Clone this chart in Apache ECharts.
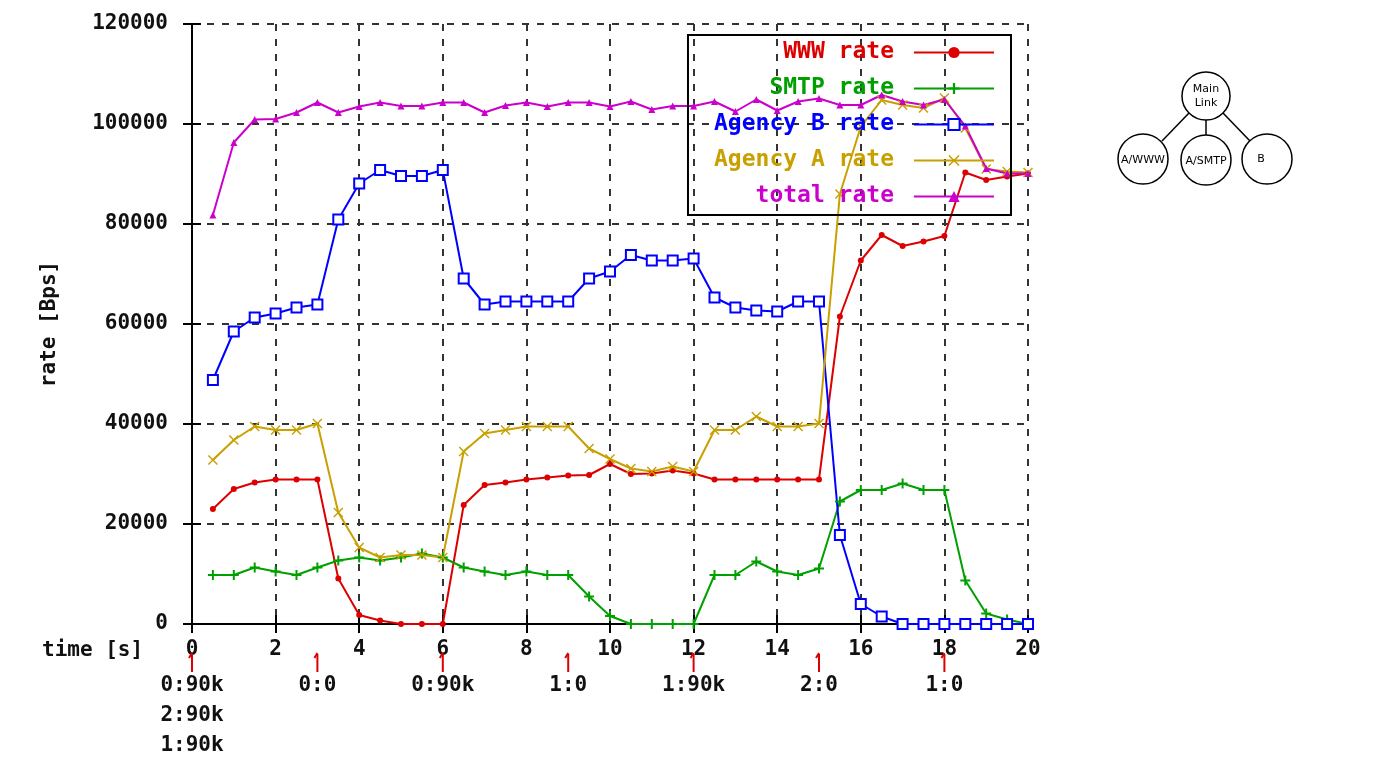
<!DOCTYPE html>
<html>
<head>
<meta charset="utf-8">
<script src="https://cdn.jsdelivr.net/npm/echarts@6/dist/echarts.min.js"></script>
<style>
  html, body { margin: 0; padding: 0; background: #fff; }
  #chart { width: 1382px; height: 776px; }
</style>
</head>
<body>
<div id="chart"></div>
<script>
// sample times [s]
var times = [0.5, 1, 1.5, 2, 2.5, 3, 3.5, 4, 4.5, 5, 5.5, 6, 6.5, 7, 7.5, 8, 8.5, 9, 9.5, 10,
  10.5, 11, 11.5, 12, 12.5, 13, 13.5, 14, 14.5, 15, 15.5, 16, 16.5, 17, 17.5, 18, 18.5, 19, 19.5, 20];

// rates [Bps]
var wwwRate = [23000, 27000, 28300, 28900, 28900, 28900, 9100, 1800, 700, 0, 0, 0, 23800, 27800, 28300, 28900, 29300, 29700, 29800, 32000,
  30000, 30100, 30700, 30100, 28900, 28900, 28900, 28900, 28900, 28900, 61500, 72700, 77800, 75600, 76500, 77600, 90300, 88800, 89500, 90100];
var smtpRate = [9800, 9800, 11300, 10500, 9800, 11300, 12700, 13300, 12700, 13300, 14100, 13300, 11300, 10500, 9800, 10500, 9800, 9800, 5500, 1600,
  0, 0, 0, 0, 9800, 9800, 12500, 10500, 9800, 11100, 24500, 26800, 26800, 28100, 26800, 26800, 8700, 2100, 900, 0];
var agencyBRate = [48800, 58500, 61300, 62100, 63300, 63900, 80900, 88100, 90800, 89600, 89600, 90800, 69100, 63900, 64500, 64500, 64500, 64500, 69100, 70500,
  73800, 72700, 72700, 73100, 65300, 63300, 62700, 62500, 64500, 64500, 17800, 4000, 1500, 0, 0, 0, 0, 0, 0, 0];
var agencyARate = [32800, 36800, 39500, 38800, 38800, 40100, 22300, 15300, 13300, 13800, 13800, 13300, 34500, 38100, 38800, 39500, 39500, 39500, 35100, 33000,
  31100, 30500, 31500, 30500, 38800, 38800, 41500, 39500, 39500, 40100, 86000, 99500, 104800, 103800, 103200, 105200, 99200, 91000, 90500, 90300];
var totalRate = [81800, 96300, 100900, 101000, 102300, 104300, 102300, 103500, 104300, 103600, 103600, 104300, 104300, 102300, 103700, 104300, 103500, 104300, 104300, 103500,
  104500, 102900, 103600, 103600, 104500, 102500, 104900, 102700, 104500, 105100, 103800, 103800, 105800, 104500, 103800, 104900, 99600, 91100, 90100, 90100];

// configuration change events under the time axis
var eventTimes = [0, 3, 6, 9, 12, 15, 18];
var eventLabels = ['0:90k\n2:90k\n1:90k', '0:0', '0:90k', '1:0', '1:90k', '2:0', '1:0'];

var MONO = '"DejaVu Sans Mono", "Liberation Mono", monospace';

function pairs(vals) {
  return times.map(function (t, i) { return [t, vals[i]]; });
}

function lineSeries(name, vals, color, symbol, size, extra) {
  var s = {
    name: name,
    type: 'line',
    data: pairs(vals),
    symbol: symbol,
    symbolSize: size,
    showAllSymbol: true,
    lineStyle: { color: color, width: 2 },
    itemStyle: { color: color },
    animation: false
  };
  if (extra) Object.assign(s, extra);
  return s;
}

var chart = echarts.init(document.getElementById('chart'), null, { renderer: 'canvas' });

var plusPath = 'path://M4,0H6V4H10V6H6V10H4V6H0V4H4Z';
var crossPath = 'path://M1,0L5,4L9,0L10,1L6,5L10,9L9,10L5,6L1,10L0,9L4,5L0,1Z';

var gridDash = { color: '#333', width: 2, type: [7, 8] };
var plainNum = function (v) { return String(v); };

chart.setOption({
  animation: false,
  textStyle: { fontFamily: MONO },
  grid: { left: 192, top: 24, width: 836, height: 600 },
  xAxis: [{
    type: 'value', min: 0, max: 20, interval: 2,
    axisLine: { lineStyle: { color: '#000', width: 2 } },
    axisTick: { inside: true, length: 9, lineStyle: { color: '#000', width: 2 } },
    axisLabel: { color: '#111', fontFamily: MONO, fontSize: 21, fontWeight: 'bold', margin: 15, formatter: plainNum },
    splitLine: { show: true, lineStyle: gridDash }
  }, {
    type: 'value', min: 0, max: 20, interval: 2, position: 'top',
    axisLine: { lineStyle: { color: '#000', width: 2 } },
    axisTick: { inside: true, length: 9, lineStyle: { color: '#000', width: 2 } },
    axisLabel: { show: false },
    splitLine: { show: false }
  }],
  yAxis: [{
    type: 'value', min: 0, max: 120000, interval: 20000,
    name: 'rate [Bps]', nameLocation: 'middle', nameGap: 132, nameRotate: 90,
    nameTextStyle: { color: '#111', fontFamily: MONO, fontSize: 21, fontWeight: 'bold' },
    axisLine: { show: true, lineStyle: { color: '#000', width: 2 } },
    axisTick: { show: true, inside: true, length: 9, lineStyle: { color: '#000', width: 2 } },
    axisLabel: { color: '#111', fontFamily: MONO, fontSize: 21, fontWeight: 'bold', margin: 24, formatter: plainNum },
    splitLine: { show: true, lineStyle: gridDash }
  }, {
    type: 'value', min: 0, max: 120000, interval: 20000, position: 'right',
    axisLine: { show: true, lineStyle: { color: '#000', width: 2 } },
    axisTick: { show: true, inside: true, length: 9, lineStyle: { color: '#000', width: 2 } },
    axisLabel: { show: false },
    splitLine: { show: false }
  }],
  legend: {
    orient: 'vertical',
    align: 'right',
    right: 371,
    top: 35,
    padding: [6, 16, 7, 26],
    borderColor: '#000',
    borderWidth: 2,
    backgroundColor: 'transparent',
    itemWidth: 80,
    itemHeight: 14,
    itemGap: 13,
    textStyle: { fontFamily: MONO, fontSize: 23, fontWeight: 'bold', lineHeight: 22, padding: [0, 15, 0, 0] },
    data: [
      { name: 'WWW rate', textStyle: { color: '#dd0000' } },
      { name: 'SMTP rate', textStyle: { color: '#00a000' } },
      { name: 'Agency B rate', textStyle: { color: '#0000ff' } },
      { name: 'Agency A rate', textStyle: { color: '#c8a000' } },
      { name: 'total rate', textStyle: { color: '#cc00cc' } }
    ]
  },
  series: [
    lineSeries('WWW rate', wwwRate, '#dd0000', 'circle', 6),
    lineSeries('SMTP rate', smtpRate, '#00a000', plusPath, 10),
    lineSeries('Agency B rate', agencyBRate, '#0000ff', 'rect', 10, {
      itemStyle: { color: '#fff', borderColor: '#0000ff', borderWidth: 2 }
    }),
    lineSeries('Agency A rate', agencyARate, '#c8a000', crossPath, 10),
    lineSeries('total rate', totalRate, '#cc00cc', 'triangle', 7),
    {
      name: 'events',
      type: 'custom',
      clip: false,
      silent: true,
      data: eventTimes.map(function (t) { return [t, 0]; }),
      renderItem: function (params, api) {
        var p = api.coord([api.value(0), api.value(1)]);
        return {
          type: 'group',
          children: [
            { type: 'line', shape: { x1: p[0], y1: p[1] + 30, x2: p[0], y2: p[1] + 48 },
              style: { stroke: '#dd0000', lineWidth: 2 } },
            { type: 'line', shape: { x1: p[0] - 3, y1: p[1] + 34, x2: p[0], y2: p[1] + 29 },
              style: { stroke: '#dd0000', lineWidth: 2 } },
            { type: 'text', style: {
                text: eventLabels[params.dataIndex], x: p[0], y: p[1] + 47,
                align: 'center', verticalAlign: 'top', lineHeight: 30,
                font: 'bold 21px ' + MONO, fill: '#111' } }
          ]
        };
      }
    }
  ],
  graphic: [
    { type: 'text', left: 42, top: 640,
      style: { text: 'time [s]', font: 'bold 21px ' + MONO, fill: '#111' } },
    // link tree on the right
    { type: 'line', shape: { x1: 1189, y1: 113, x2: 1162, y2: 141 }, style: { stroke: '#000', lineWidth: 1.5 } },
    { type: 'line', shape: { x1: 1206, y1: 120, x2: 1206, y2: 135 }, style: { stroke: '#000', lineWidth: 1.5 } },
    { type: 'line', shape: { x1: 1223, y1: 113, x2: 1250, y2: 141 }, style: { stroke: '#000', lineWidth: 1.5 } },
    { type: 'circle', shape: { cx: 1206, cy: 96, r: 24 }, style: { fill: '#fff', stroke: '#000', lineWidth: 1.5 } },
    { type: 'circle', shape: { cx: 1143, cy: 159, r: 25 }, style: { fill: '#fff', stroke: '#000', lineWidth: 1.5 } },
    { type: 'circle', shape: { cx: 1206, cy: 160, r: 25 }, style: { fill: '#fff', stroke: '#000', lineWidth: 1.5 } },
    { type: 'circle', shape: { cx: 1267, cy: 159, r: 25 }, style: { fill: '#fff', stroke: '#000', lineWidth: 1.5 } },
    { type: 'text', x: 1206, y: 96, style: { text: 'Main\nLink', align: 'center', verticalAlign: 'middle', lineHeight: 14, font: '11px "DejaVu Sans"', fill: '#000' } },
    { type: 'text', x: 1143, y: 160, style: { text: 'A/WWW', align: 'center', verticalAlign: 'middle', font: '11px "DejaVu Sans"', fill: '#000' } },
    { type: 'text', x: 1206, y: 161, style: { text: 'A/SMTP', align: 'center', verticalAlign: 'middle', font: '11px "DejaVu Sans"', fill: '#000' } },
    { type: 'text', x: 1261, y: 159, style: { text: 'B', align: 'center', verticalAlign: 'middle', font: '11px "DejaVu Sans"', fill: '#000' } }
  ]
});
</script>
</body>
</html>
